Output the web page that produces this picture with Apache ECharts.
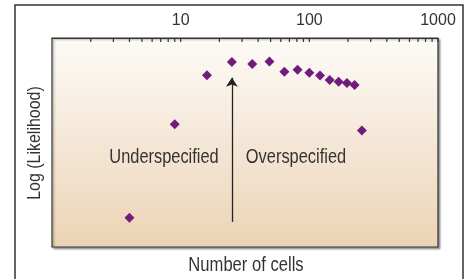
<!DOCTYPE html>
<html>
<head>
<meta charset="utf-8">
<script src="https://cdn.jsdelivr.net/npm/echarts@6/dist/echarts.min.js"></script>
<style>
  html, body { margin: 0; padding: 0; background: #fff; }
  #chart { width: 467px; height: 279px; }
</style>
</head>
<body>
<div id="chart"></div>
<script>
// number of cells (x, log scale) and log likelihood (y, arbitrary units)
let cells = [4, 9, 16, 25, 36, 49, 64, 81, 100, 121, 144, 169, 196, 225, 256];
let logLik = [14.0, 58.7, 82.2, 88.5, 87.6, 88.8, 83.9, 84.8, 83.4, 82.0, 79.9, 79.1, 78.5, 77.5, 55.8];
let tickLabels = [10, 100, 1000];
let minorTicks = [2, 3, 4, 5, 6, 7, 8, 9, 20, 30, 40, 50, 60, 70, 80, 90, 200, 300, 400, 500, 600, 700, 800, 900];
let bestCells = 25;
let arrowFrom = 12, arrowTo = 81;

let font = '"Liberation Sans", Arial, sans-serif';
let squeeze = 0.82; // no narrow font installed, so squash the text a bit

let points = cells.map(function (c, i) { return [c, logLik[i]]; });
let tickPts = minorTicks.concat(tickLabels).map(function (t) { return [t, 100]; });

let option = {
    backgroundColor: '#fff',
    animation: false,
    grid: {
        left: 52, right: 29, top: 38, bottom: 32,
        show: true,
        borderColor: '#333',
        borderWidth: 1.2,
        shadowColor: 'rgba(0,0,0,0.35)',
        shadowBlur: 2,
        shadowOffsetX: 1.5,
        shadowOffsetY: 1.5,
        backgroundColor: {
            type: 'linear', x: 0, y: 0, x2: 0, y2: 1,
            colorStops: [
                { offset: 0, color: '#fdfbf8' },
                { offset: 1, color: '#ecd3b5' }
            ]
        }
    },
    xAxis: {
        type: 'log',
        position: 'top',
        min: 1, max: 1000,
        logBase: 10,
        axisLine: { show: true, onZero: false, lineStyle: { color: '#333', width: 1.2 } },
        axisTick: { show: false },
        minorTick: { show: false },
        splitLine: { show: false },
        axisLabel: {
            margin: 9,
            color: '#333',
            fontFamily: font,
            fontSize: 16,
            formatter: function (v) { return tickLabels.indexOf(Math.round(v)) >= 0 ? String(Math.round(v)) : ''; }
        }
    },
    yAxis: {
        type: 'value',
        min: 0, max: 100,
        axisLine: { show: false, onZero: false },
        axisTick: { show: false },
        axisLabel: { show: false },
        splitLine: { show: false }
    },
    graphic: [
        {
            type: 'rect', silent: true, z: -1,
            shape: { x: 15, y: 5, width: 448, height: 300 },
            style: { fill: 'none', stroke: '#333', lineWidth: 1.5 }
        },
        {
            type: 'text', x: 164, y: 157, scaleX: squeeze,
            style: { text: 'Underspecified', fill: '#333', font: '20px ' + font, textAlign: 'center', textVerticalAlign: 'middle' }
        },
        {
            type: 'text', x: 296, y: 157, scaleX: squeeze,
            style: { text: 'Overspecified', fill: '#333', font: '20px ' + font, textAlign: 'center', textVerticalAlign: 'middle' }
        },
        {
            type: 'text', x: 246, y: 265, scaleX: 0.83,
            style: { text: 'Number of cells', fill: '#333', font: '20px ' + font, textAlign: 'center', textVerticalAlign: 'middle' }
        },
        {
            type: 'text', x: 35, y: 143, rotation: Math.PI / 2, scaleX: 0.84,
            style: { text: 'Log (Likelihood)', fill: '#333', font: '19px ' + font, textAlign: 'center', textVerticalAlign: 'middle' }
        }
    ],
    series: [
        {
            type: 'scatter',
            data: points,
            symbol: 'diamond',
            symbolSize: 10,
            itemStyle: { color: '#701c7c', opacity: 1 },
            markLine: {
                silent: true,
                symbol: ['none', 'arrow'],
                symbolSize: 9,
                label: { show: false },
                lineStyle: { color: '#222', width: 1.3, type: 'solid' },
                data: [[{ coord: [bestCells, arrowFrom] }, { coord: [bestCells, arrowTo] }]]
            }
        },
        {
            // ticks along the top axis (2..9 in each decade)
            type: 'scatter',
            data: tickPts,
            symbol: 'rect',
            symbolSize: [1.2, 4],
            symbolOffset: [0, 2],
            clip: false,
            silent: true,
            itemStyle: { color: '#333', opacity: 1 }
        }
    ]
};

let myChart = echarts.init(document.getElementById('chart'));
myChart.setOption(option);
</script>
</body>
</html>
